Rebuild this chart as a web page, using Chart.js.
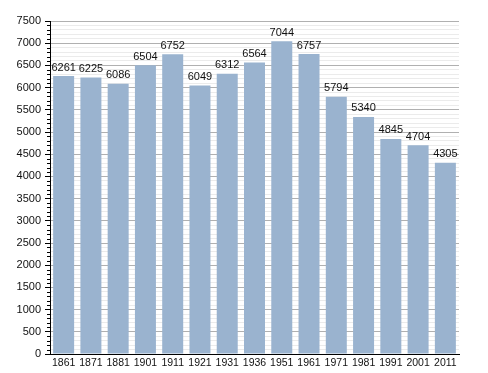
<!DOCTYPE html>
<html>
<head>
<meta charset="utf-8">
<script src="https://cdn.jsdelivr.net/npm/chart.js@4/dist/chart.umd.min.js"></script>
<style>
    html, body { margin: 0; padding: 0; background: #fff; }
    #wrap { width: 488px; height: 373px; position: relative; }
</style>
</head>
<body>
<div id="wrap"><canvas id="chart"></canvas></div>
<script>
// DATOS
const years = ['1861', '1871', '1881', '1901', '1911', '1921', '1931', '1936', '1951', '1961', '1971', '1981', '1991', '2001', '2011'];
const population = [6261, 6225, 6086, 6504, 6752, 6049, 6312, 6564, 7044, 6757, 5794, 5340, 4845, 4704, 4305];
const yMax = 7500;
const yMajorStep = 500;
const yMinorStep = 100;

// etiquetas encima de las barras + marcas menores del eje
const valueLabels = {
    id: 'valueLabels',
    afterDatasetsDraw(chart) {
        const ctx = chart.ctx;
        const meta = chart.getDatasetMeta(0);
        ctx.save();
        ctx.font = '11px "Liberation Sans", Arial, sans-serif';
        ctx.fillStyle = '#111';
        ctx.textAlign = 'center';
        ctx.textBaseline = 'bottom';
        meta.data.forEach((bar, i) => {
            ctx.fillText(population[i], bar.x, bar.y - 3);
        });

        // marcas menores (cortas)
        const y = chart.scales.y;
        const left = chart.chartArea.left;
        ctx.strokeStyle = '#000';
        ctx.lineWidth = 1;
        ctx.beginPath();
        y.ticks.forEach(t => {
            if (t.value % yMajorStep !== 0) {
                const py = Math.round(y.getPixelForValue(t.value)) + 0.5;
                ctx.moveTo(left - 3, py);
                ctx.lineTo(left, py);
            }
        });
        ctx.stroke();
        ctx.restore();
    }
};

new Chart(document.getElementById('chart'), {
    type: 'bar',
    data: {
        labels: years,
        datasets: [{
            data: population,
            backgroundColor: '#9ab3cf',
            borderWidth: 0,
            categoryPercentage: 1,
            barPercentage: 0.77
        }]
    },
    options: {
        responsive: true,
        maintainAspectRatio: false,
        animation: false,
        layout: { padding: { top: 21, right: 29, left: 0, bottom: 0 } },
        plugins: {
            legend: { display: false },
            tooltip: { enabled: false }
        },
        scales: {
            x: {
                grid: { display: false, drawTicks: false },
                border: { color: '#000', width: 1 },
                ticks: {
                    color: '#111',
                    padding: 3,
                    maxRotation: 0,
                    autoSkip: false,
                    font: { family: '"Liberation Sans", Arial, sans-serif', size: 10.5 }
                },
                afterFit(scale) { scale.height = 19; }
            },
            y: {
                min: 0,
                max: yMax,
                border: { color: '#000', width: 1 },
                grid: {
                    color: c => (c.tick.value % yMajorStep === 0 ? '#b0b0b0' : '#ebebeb'),
                    tickColor: c => (c.tick.value % yMajorStep === 0 ? '#000' : 'rgba(0,0,0,0)'),
                    tickLength: 5,
                    tickWidth: 1
                },
                ticks: {
                    stepSize: yMinorStep,
                    autoSkip: false,
                    color: '#111',
                    padding: 4,
                    font: { family: '"Liberation Sans", Arial, sans-serif', size: 11 },
                    callback: v => (v % yMajorStep === 0 ? v : '')
                },
                afterFit(scale) { scale.width = 50; }
            }
        }
    },
    plugins: [valueLabels]
});
</script>
</body>
</html>
